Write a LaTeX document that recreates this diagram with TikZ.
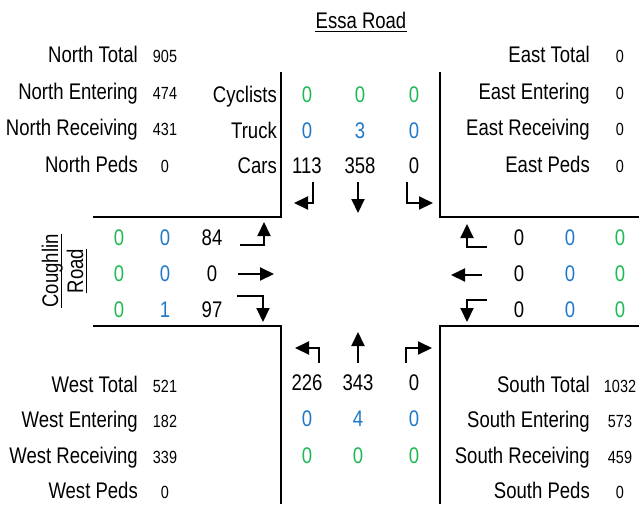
\documentclass[tikz,border=0pt]{standalone}
\usepackage{fontspec}
\setmainfont{Liberation Sans}[FakeStretch=0.82]
\usetikzlibrary{arrows.meta}
\definecolor{cycgreen}{HTML}{1DB954}
\definecolor{truckblue}{HTML}{1F78C8}

\begin{document}
\begin{tikzpicture}[x=1pt, y=-1pt, inner sep=0pt,
lbl/.style ={anchor=base east, font=\fontsize{22.6}{25}\selectfont},
val/.style ={anchor=base, font=\fontsize{17.6}{20}\selectfont},
num/.style ={anchor=base, font=\fontsize{22.6}{25}\selectfont},
bike/.style ={num, text=cycgreen},
truck/.style ={num, text=truckblue},
curb/.style ={line width=2.2pt},
turn/.style ={line width=2pt, -{Triangle[length=14pt,width=13pt]}}]
\useasboundingbox (0,0) rectangle (639,504);

% road names
\node[num] (essa) at (361,28) {Essa Road};
\node[num, rotate=90] (cough) at (58,271) {Coughlin};
\node[num, rotate=90] (road) at (83,271) {Road};
\draw[line width=1.6pt] ([yshift=-3.5pt]essa.base west) -- ([yshift=-3.5pt]essa.base east);
\draw[line width=1.6pt] ([xshift=3.5pt]cough.base west) -- ([xshift=3.5pt]cough.base east);
\draw[line width=1.6pt] ([xshift=3.5pt]road.base west) -- ([xshift=3.5pt]road.base east);

% curbs
\draw[curb] (281,72) -- (281,217) -- (93,217);
\draw[curb] (440,72) -- (440,217) -- (639,217);
\draw[curb] (93,326) -- (281,326) -- (281,504);
\draw[curb] (639,326) -- (440,326) -- (440,504);

% north summary
\node[lbl] (ntot) at (138,62) {North Total};
\node[val] (ntotv) at (165,62) {905};
\node[lbl] (nent) at (138,99) {North Entering};
\node[val] (nentv) at (165,99) {474};
\node[lbl] (nrec) at (138,135) {North Receiving};
\node[val] (nrecv) at (165,135) {431};
\node[lbl] (nped) at (138,172) {North Peds};
\node[val] (npedv) at (165,172) {0};

% east summary
\node[lbl] (etot) at (590,62) {East Total};
\node[val] (etotv) at (620,62) {0};
\node[lbl] (eent) at (590,99) {East Entering};
\node[val] (eentv) at (620,99) {0};
\node[lbl] (erec) at (590,135) {East Receiving};
\node[val] (erecv) at (620,135) {0};
\node[lbl] (eped) at (590,172) {East Peds};
\node[val] (epedv) at (620,172) {0};

% west summary
\node[lbl] (wtot) at (138,392) {West Total};
\node[val] (wtotv) at (165,392) {521};
\node[lbl] (went) at (138,427) {West Entering};
\node[val] (wentv) at (165,427) {182};
\node[lbl] (wrec) at (138,463) {West Receiving};
\node[val] (wrecv) at (165,463) {339};
\node[lbl] (wped) at (138,498) {West Peds};
\node[val] (wpedv) at (165,498) {0};

% south summary
\node[lbl] (stot) at (590,392) {South Total};
\node[val] (stotv) at (620,392) {1032};
\node[lbl] (sent) at (590,427) {South Entering};
\node[val] (sentv) at (620,427) {573};
\node[lbl] (srec) at (590,463) {South Receiving};
\node[val] (srecv) at (620,463) {459};
\node[lbl] (sped) at (590,498) {South Peds};
\node[val] (spedv) at (620,498) {0};

% row heads
\node[lbl] (cyc) at (277,102) {Cyclists};
\node[lbl] (trk) at (277,138) {Truck};
\node[lbl] (car) at (277,173) {Cars};

% north approach
\node[bike] (nb1) at (307,102) {0};
\node[bike] (nb2) at (360,102) {0};
\node[bike] (nb3) at (414,102) {0};
\node[truck] (nt1) at (307,138) {0};
\node[truck] (nt2) at (360,138) {3};
\node[truck] (nt3) at (414,138) {0};
\node[num] (nc1) at (307,173) {113};
\node[num] (nc2) at (360,173) {358};
\node[num] (nc3) at (414,173) {0};

% west approach
\node[bike] (wb1) at (119,245) {0};
\node[truck] (wt1) at (165,245) {0};
\node[num] (wc1) at (212,245) {84};
\node[bike] (wb2) at (119,281) {0};
\node[truck] (wt2) at (165,281) {0};
\node[num] (wc2) at (212,281) {0};
\node[bike] (wb3) at (119,317) {0};
\node[truck] (wt3) at (165,317) {1};
\node[num] (wc3) at (212,317) {97};

% east approach
\node[num] (ec1) at (519,245) {0};
\node[truck] (et1) at (570,245) {0};
\node[bike] (eb1) at (620,245) {0};
\node[num] (ec2) at (519,281) {0};
\node[truck] (et2) at (570,281) {0};
\node[bike] (eb2) at (620,281) {0};
\node[num] (ec3) at (519,317) {0};
\node[truck] (et3) at (570,317) {0};
\node[bike] (eb3) at (620,317) {0};

% south approach
\node[num] (sc1) at (307,390) {226};
\node[num] (sc2) at (358,390) {343};
\node[num] (sc3) at (414,390) {0};
\node[truck] (st1) at (307,426) {0};
\node[truck] (st2) at (358,426) {4};
\node[truck] (st3) at (414,426) {0};
\node[bike] (sb1) at (307,463) {0};
\node[bike] (sb2) at (358,463) {0};
\node[bike] (sb3) at (414,463) {0};

% turning arrows
\draw[turn] (313,182) -- (313,203) -- (294,203);
\draw[turn] (358,182) -- (358,213);
\draw[turn] (407,182) -- (407,203) -- (433,203);

\draw[turn] (240,245) -- (264,245) -- (264,222);
\draw[turn] (238,274) -- (274,274);
\draw[turn] (237,296) -- (263,296) -- (263,322);

\draw[turn] (487,247) -- (467,247) -- (467,224);
\draw[turn] (482,275) -- (451,275);
\draw[turn] (487,300) -- (467,300) -- (467,322);

\draw[turn] (319,363) -- (319,348) -- (295,348);
\draw[turn] (358,363) -- (358,332);
\draw[turn] (406,363) -- (406,348) -- (432,348);
\end{tikzpicture}
\end{document}
